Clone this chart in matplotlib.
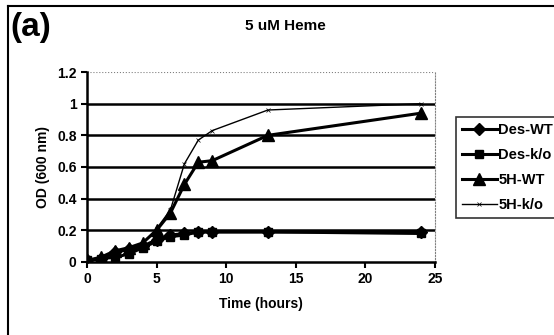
import numpy as np
import matplotlib.pyplot as plt
from matplotlib.lines import Line2D

plt.rcParams['font.family'] = ['Liberation Sans', 'DejaVu Sans']
plt.rcParams['font.weight'] = 'bold'

# Data
time_h = [0, 1, 2, 3, 4, 5, 6, 7, 8, 9, 13, 24]
des_wt = [0.01, 0.02, 0.06, 0.08, 0.10, 0.14, 0.17, 0.18, 0.19, 0.19, 0.19, 0.19]
des_ko = [0.01, 0.02, 0.03, 0.05, 0.09, 0.13, 0.16, 0.17, 0.19, 0.19, 0.19, 0.18]
h5_wt = [0.01, 0.03, 0.07, 0.09, 0.12, 0.20, 0.31, 0.49, 0.63, 0.64, 0.80, 0.94]
h5_ko = [0.01, 0.03, 0.05, 0.08, 0.12, 0.21, 0.33, 0.62, 0.77, 0.83, 0.96, 1.00]

fig = plt.figure(figsize=(5.54, 3.35), dpi=100)
ax = fig.add_axes([0.157, 0.218, 0.628, 0.567])

ax.plot(time_h, des_wt, color="black", lw=2.2, marker="D", ms=6, label="Des-WT")
ax.plot(time_h, des_ko, color="black", lw=2.2, marker="s", ms=6, label="Des-k/o")
ax.plot(time_h, h5_wt, color="black", lw=2.2, marker="^", ms=8, label="5H-WT")
ax.plot(time_h, h5_ko, color="black", lw=1.0, marker="x", ms=3, mew=0.5, label="5H-k/o")

ax.set_xlim(0, 25)
ax.set_ylim(0, 1.2)
ax.set_xticks([0, 5, 10, 15, 20, 25])
ax.set_yticks([0, 0.2, 0.4, 0.6, 0.8, 1, 1.2])
ax.set_yticklabels(["0", "0.2", "0.4", "0.6", "0.8", "1", "1.2"])
for y in [0.2, 0.4, 0.6, 0.8, 1.0]:
    ax.axhline(y, color="black", lw=1.8, zorder=0)
ax.axhline(1.2, color="gray", lw=0.8, ls=":", zorder=0)

ax.spines["top"].set_visible(False)
ax.spines["right"].set_color("gray")
ax.spines["right"].set_linestyle(":")
ax.spines["left"].set_linewidth(1.8)
ax.spines["bottom"].set_linewidth(1.8)
ax.tick_params(direction="out", length=4, width=1.5, labelsize=10)

ax.set_xlabel("Time (hours)", fontsize=10, fontweight="bold", labelpad=8)
ax.set_ylabel("OD (600 nm)", fontsize=10, fontweight="bold", labelpad=5)
fig.text(0.515, 0.922, "5 uM Heme", fontsize=11, fontweight="bold", ha="center", va="center")
fig.text(0.018, 0.918, "(a)", fontsize=24, fontweight="bold", ha="left", va="center")

leg = ax.legend(loc="upper left", bbox_to_anchor=(1.04, 0.80), frameon=True,
                fontsize=10.5, handlelength=2.4, handletextpad=0.1,
                borderpad=0.4, labelspacing=0.75, fancybox=False)
leg.get_frame().set_edgecolor("black")
leg.get_frame().set_linewidth(1.2)

# outer frame
fig.add_artist(Line2D([0.015, 0.015], [0, 0.983], color="black", lw=1.5))
fig.add_artist(Line2D([0.015, 1.0], [0.983, 0.983], color="black", lw=1.5))

plt.savefig("out.png", dpi=100)
